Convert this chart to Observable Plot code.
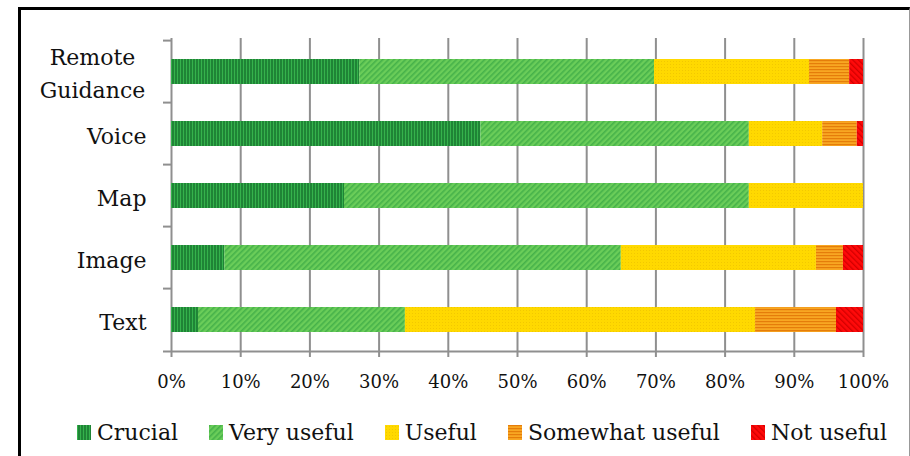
<!DOCTYPE html>
<html>
<head>
<meta charset="utf-8">
<script src="https://cdn.jsdelivr.net/npm/d3@7"></script>
<script src="https://cdn.jsdelivr.net/npm/@observablehq/plot@0.6"></script>
<style>
  html, body { margin: 0; padding: 0; background: #fff; }
  body { width: 910px; height: 456px; overflow: hidden; position: relative; font-family: "DejaVu Serif", serif; }
  #border { position: absolute; left: 18px; top: 7px; width: 888px; height: 470px;
    border-left: 3px solid #000; border-top: 3px solid #000; border-right: 1px solid #999; }
  #chart { position: absolute; left: 0; top: 0; }
  #legend { position: absolute; left: 77px; top: 420px; display: flex; align-items: center;
    font-family: "DejaVu Serif", serif; font-size: 22px; color: #111; white-space: nowrap; }
  #legend .item { display: flex; align-items: center; margin-right: 31px; }
  #legend .item:last-child { margin-right: 0; }
  #legend svg { margin-right: 6px; display: block; }
</style>
</head>
<body>
<div id="border"></div>
<div id="chart"></div>
<div id="legend"></div>
<script>
// ---- data (percent of respondents) ----
const categories = ["Remote Guidance", "Voice", "Map", "Image", "Text"];
const levels = ["Crucial", "Very useful", "Useful", "Somewhat useful", "Not useful"];
const crucial    = [27.2, 44.7, 25.0,  7.7,  3.9];
const veryUseful = [42.6, 38.8, 58.5, 57.3, 29.9];
const useful     = [22.4, 10.6, 16.5, 28.2, 50.6];
const somewhat   = [ 5.8,  5.0,  0.0,  3.9, 11.7];
const notUseful  = [ 2.0,  0.9,  0.0,  2.9,  3.9];
const xTicks = [0, 10, 20, 30, 40, 50, 60, 70, 80, 90, 100];
const labelText = {"Remote Guidance": "Remote\nGuidance"};

const seriesValues = [crucial, veryUseful, useful, somewhat, notUseful];
const rows = [];
levels.forEach((lev, li) => {
  categories.forEach((cat, ci) => {
    rows.push({category: cat, level: lev, value: seriesValues[li][ci]});
  });
});

const patIds = ["pat-crucial", "pat-very", "pat-useful", "pat-somewhat", "pat-not"];
const patFills = patIds.map(id => `url(#${id})`);

const width = 910, height = 400;
const marginTop = 38, marginBottom = 48, marginLeft = 171, marginRight = 47;
const padIn = 0.6, padOut = 0.3;
const step = (height - marginTop - marginBottom) / (categories.length - padIn + 2 * padOut);
const grid = "#8f8f8f";

const chart = Plot.plot({
  width, height, marginTop, marginBottom, marginLeft, marginRight,
  style: {fontFamily: "DejaVu Serif, serif", background: "transparent", color: "#111"},
  x: {domain: [0, 100], ticks: xTicks},
  y: {domain: categories, paddingInner: padIn, paddingOuter: padOut, axis: null},
  color: {type: "ordinal", domain: levels, range: patFills},
  marks: [
    Plot.ruleX(xTicks, {stroke: grid, strokeWidth: 2}),
    Plot.axisX({
      ticks: xTicks, tickSize: 5, tickPadding: 18, stroke: grid, strokeWidth: 2,
      tickFormat: d => d + "%", fontSize: 18, fill: "#111", label: null
    }),
    Plot.ruleY(categories, {y: d => d, x1: 0, x2: 0, insetLeft: -8, dy: -step / 2, stroke: grid, strokeWidth: 2}),
    Plot.ruleY([categories[categories.length - 1]], {y: d => d, x1: 0, x2: 100, insetLeft: -8, dy: step / 2, stroke: grid, strokeWidth: 2}),
    Plot.barX(rows, Plot.stackX({y: "category", x: "value", fill: "level", z: "level"})),
    Plot.text(categories.filter(c => !labelText[c]), {
      y: d => d, frameAnchor: "left", textAnchor: "end", dx: -25, dy: 3, text: d => d,
      fontSize: 22, fill: "#111"
    }),
    Plot.text(categories.filter(c => labelText[c]), {
      y: d => d, frameAnchor: "left", textAnchor: "middle", dx: -79, dy: -1, text: d => labelText[d],
      fontSize: 22, lineHeight: 1.5, fill: "#111"
    })
  ]
});

const ns = "http://www.w3.org/2000/svg";
const defs = document.createElementNS(ns, "defs");
defs.innerHTML = `
  <pattern id="pat-crucial" patternUnits="userSpaceOnUse" width="3" height="10">
    <rect width="3" height="10" fill="#1f8436"/>
    <rect x="0" width="1" height="10" fill="#35b24c"/>
  </pattern>
  <pattern id="pat-very" patternUnits="userSpaceOnUse" width="4" height="4" patternTransform="rotate(45)">
    <rect width="4" height="4" fill="#6acd59"/>
    <rect x="0" width="1.6" height="4" fill="#46b24a"/>
  </pattern>
  <pattern id="pat-useful" patternUnits="userSpaceOnUse" width="3" height="3">
    <rect width="3" height="3" fill="#ffd900"/>
    <rect x="1" y="1" width="1" height="1" fill="#f2c800"/>
  </pattern>
  <pattern id="pat-somewhat" patternUnits="userSpaceOnUse" width="10" height="3">
    <rect width="10" height="3" fill="#f8a722"/>
    <rect y="0" width="10" height="1.2" fill="#e57d0a"/>
  </pattern>
  <pattern id="pat-not" patternUnits="userSpaceOnUse" width="4" height="4" patternTransform="rotate(-45)">
    <rect width="4" height="4" fill="#ff0a0a"/>
    <rect x="0" width="1.3" height="4" fill="#d20000"/>
  </pattern>`;
chart.insertBefore(defs, chart.firstChild);
document.getElementById("chart").appendChild(chart);

const legend = document.getElementById("legend");
levels.forEach((lev, i) => {
  const item = document.createElement("div");
  item.className = "item";
  const sw = document.createElementNS(ns, "svg");
  sw.setAttribute("width", 14);
  sw.setAttribute("height", 15);
  const r = document.createElementNS(ns, "rect");
  r.setAttribute("width", 14);
  r.setAttribute("height", 15);
  r.setAttribute("fill", patFills[i]);
  sw.appendChild(r);
  item.appendChild(sw);
  const t = document.createElement("span");
  t.textContent = lev;
  item.appendChild(t);
  legend.appendChild(item);
});
</script>
</body>
</html>
